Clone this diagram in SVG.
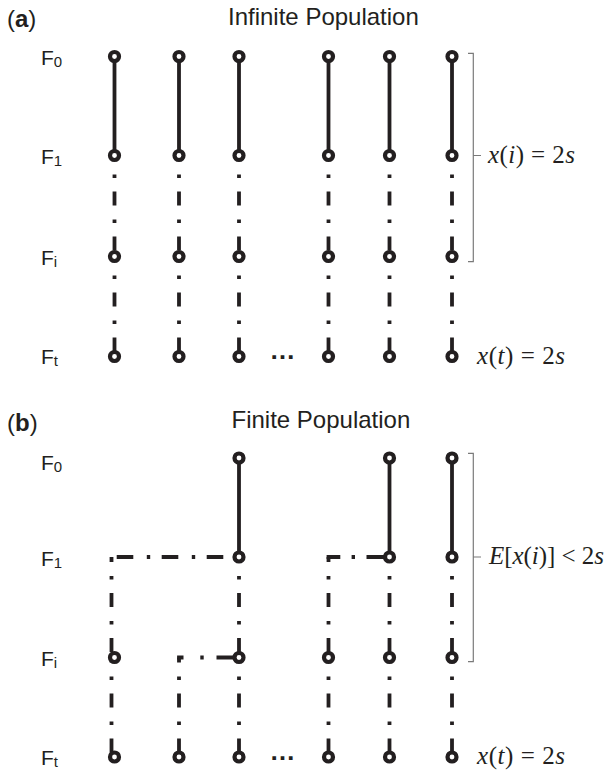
<svg xmlns="http://www.w3.org/2000/svg" width="606" height="771" viewBox="0 0 606 771">
  <style>
    .ttl { font-family: "Liberation Sans", Arial, sans-serif; font-size: 24px; fill: #231f20; }
    .lbl { font-family: "Liberation Sans", Arial, sans-serif; font-size: 21px; fill: #231f20; }
    .sub { font-size: 15px; }
    .math { font-family: "Liberation Serif", "Times New Roman", serif; font-size: 25px; fill: #231f20; }
    .it { font-style: italic; }
    .dots { font-family: "Liberation Sans", Arial, sans-serif; font-size: 26px; font-weight: bold; fill: #231f20; }
    .solid { stroke: #231f20; stroke-width: 3.8; fill: none; }
    .dd { stroke: #231f20; stroke-width: 3.8; fill: none; stroke-dasharray: 14 14 3.4 13.6; stroke-dashoffset: 9; }
    .hd { stroke: #231f20; stroke-width: 3.8; fill: none; }
    .brk { stroke: #7a7a7a; stroke-width: 1.2; fill: none; }
    .n circle { fill: #ffffff; stroke: #231f20; stroke-width: 4.2; }
  </style>

  <!-- panel headings -->
  <text class="ttl" x="7" y="27">(<tspan font-weight="bold">a</tspan>)</text>
  <text class="ttl" x="228" y="25">Infinite Population</text>
  <text class="ttl" x="7" y="431">(<tspan font-weight="bold">b</tspan>)</text>
  <text class="ttl" x="231.5" y="428">Finite Population</text>

  <!-- generation labels -->
  <g id="labels">
    <text class="lbl" x="41" y="65">F<tspan class="sub" dy="2">0</tspan></text>
    <text class="lbl" x="41" y="164">F<tspan class="sub" dy="2">1</tspan></text>
    <text class="lbl" x="41" y="265">F<tspan class="sub" dy="2">i</tspan></text>
    <text class="lbl" x="41" y="364">F<tspan class="sub" dy="2">t</tspan></text>
    <text class="lbl" x="41" y="470">F<tspan class="sub" dy="2">0</tspan></text>
    <text class="lbl" x="41" y="565.5">F<tspan class="sub" dy="2">1</tspan></text>
    <text class="lbl" x="41" y="666">F<tspan class="sub" dy="2">i</tspan></text>
    <text class="lbl" x="41" y="765">F<tspan class="sub" dy="2">t</tspan></text>
  </g>

  <!-- lineages -->
  <g id="connectors">
    <!-- (a) every lineage survives -->
    <path class="solid" d="M114.5 56.5V155.5M179 56.5V155.5M239 56.5V155.5M328.5 56.5V155.5M389.5 56.5V155.5M452 56.5V155.5"/>
    <path class="dd" d="M114.5 155.5V256.5M179 155.5V256.5M239 155.5V256.5M328.5 155.5V256.5M389.5 155.5V256.5M452 155.5V256.5"/>
    <path class="dd" d="M114.5 256.5V356.5M179 256.5V356.5M239 256.5V356.5M328.5 256.5V356.5M389.5 256.5V356.5M452 256.5V356.5"/>

    <!-- (b) lineages that split and drift -->
    <path class="solid" d="M239 458V557M389.5 458V557M452 458V557"/>
    <path class="dd" d="M239 557V657.5M389.5 557V657.5M452 557V657.5M111.5 557V657.5M328.5 557V657.5"/>
    <path class="dd" d="M239 657.5V757M389.5 657.5V757M452 657.5V757M111.5 657.5V757M328.5 657.5V757M179 657.5V757"/>
    <line class="hd" x1="111.5" y1="557" x2="239" y2="557" stroke-dasharray="16.6 13.5 3.4 11.5" stroke-dashoffset="39.8"/>
    <line class="hd" x1="326.6" y1="557" x2="389.5" y2="557" stroke-dasharray="13.7 11.3 3.4 11.5 40"/>
    <line class="hd" x1="177.1" y1="657.5" x2="239" y2="657.5" stroke-dasharray="6.4 16.8 3.4 12.8 40"/>
  </g>

  <!-- (a) individuals -->
  <g id="a0-1" class="n"><circle cx="114.5" cy="56.5" r="4.5"/></g>
  <g id="a0-2" class="n"><circle cx="179" cy="56.5" r="4.5"/></g>
  <g id="a0-3" class="n"><circle cx="239" cy="56.5" r="4.5"/></g>
  <g id="a0-4" class="n"><circle cx="328.5" cy="56.5" r="4.5"/></g>
  <g id="a0-5" class="n"><circle cx="389.5" cy="56.5" r="4.5"/></g>
  <g id="a0-6" class="n"><circle cx="452" cy="56.5" r="4.5"/></g>
  <g id="a1-1" class="n"><circle cx="114.5" cy="155.5" r="4.5"/></g>
  <g id="a1-2" class="n"><circle cx="179" cy="155.5" r="4.5"/></g>
  <g id="a1-3" class="n"><circle cx="239" cy="155.5" r="4.5"/></g>
  <g id="a1-4" class="n"><circle cx="328.5" cy="155.5" r="4.5"/></g>
  <g id="a1-5" class="n"><circle cx="389.5" cy="155.5" r="4.5"/></g>
  <g id="a1-6" class="n"><circle cx="452" cy="155.5" r="4.5"/></g>
  <g id="ai-1" class="n"><circle cx="114.5" cy="256.5" r="4.5"/></g>
  <g id="ai-2" class="n"><circle cx="179" cy="256.5" r="4.5"/></g>
  <g id="ai-3" class="n"><circle cx="239" cy="256.5" r="4.5"/></g>
  <g id="ai-4" class="n"><circle cx="328.5" cy="256.5" r="4.5"/></g>
  <g id="ai-5" class="n"><circle cx="389.5" cy="256.5" r="4.5"/></g>
  <g id="ai-6" class="n"><circle cx="452" cy="256.5" r="4.5"/></g>
  <g id="at-1" class="n"><circle cx="114.5" cy="356.5" r="4.5"/></g>
  <g id="at-2" class="n"><circle cx="179" cy="356.5" r="4.5"/></g>
  <g id="at-3" class="n"><circle cx="239" cy="356.5" r="4.5"/></g>
  <g id="at-4" class="n"><circle cx="328.5" cy="356.5" r="4.5"/></g>
  <g id="at-5" class="n"><circle cx="389.5" cy="356.5" r="4.5"/></g>
  <g id="at-6" class="n"><circle cx="452" cy="356.5" r="4.5"/></g>

  <!-- (b) individuals -->
  <g id="b0-3" class="n"><circle cx="239" cy="458" r="4.5"/></g>
  <g id="b0-5" class="n"><circle cx="389.5" cy="458" r="4.5"/></g>
  <g id="b0-6" class="n"><circle cx="452" cy="458" r="4.5"/></g>
  <g id="b1-3" class="n"><circle cx="239" cy="557" r="4.5"/></g>
  <g id="b1-5" class="n"><circle cx="389.5" cy="557" r="4.5"/></g>
  <g id="b1-6" class="n"><circle cx="452" cy="557" r="4.5"/></g>
  <g id="bi-1" class="n"><circle cx="114.5" cy="657.5" r="4.5"/></g>
  <g id="bi-3" class="n"><circle cx="239" cy="657.5" r="4.5"/></g>
  <g id="bi-4" class="n"><circle cx="328.5" cy="657.5" r="4.5"/></g>
  <g id="bi-5" class="n"><circle cx="389.5" cy="657.5" r="4.5"/></g>
  <g id="bi-6" class="n"><circle cx="452" cy="657.5" r="4.5"/></g>
  <g id="bt-1" class="n"><circle cx="114.5" cy="757" r="4.5"/></g>
  <g id="bt-2" class="n"><circle cx="179" cy="757" r="4.5"/></g>
  <g id="bt-3" class="n"><circle cx="239" cy="757" r="4.5"/></g>
  <g id="bt-4" class="n"><circle cx="328.5" cy="757" r="4.5"/></g>
  <g id="bt-5" class="n"><circle cx="389.5" cy="757" r="4.5"/></g>
  <g id="bt-6" class="n"><circle cx="452" cy="757" r="4.5"/></g>

  <!-- omitted individuals -->
  <text class="dots" x="282.5" y="359" text-anchor="middle">…</text>
  <text class="dots" x="282.5" y="759.5" text-anchor="middle">…</text>

  <!-- brackets and annotations -->
  <path class="brk" d="M468 53.3H473.3V261.7H468M473.3 155.5H481"/>
  <path class="brk" d="M468 453.3H473.3V661.7H468M473.3 557H481"/>
  <text class="math" x="488" y="162.5" textLength="87" lengthAdjust="spacing"><tspan class="it">x</tspan>(<tspan class="it">i</tspan>) = 2<tspan class="it">s</tspan></text>
  <text class="math" x="477" y="363.5" textLength="88" lengthAdjust="spacing"><tspan class="it">x</tspan>(<tspan class="it">t</tspan>) = 2<tspan class="it">s</tspan></text>
  <text class="math" x="489" y="564" textLength="115" lengthAdjust="spacing"><tspan class="it">E</tspan>[<tspan class="it">x</tspan>(<tspan class="it">i</tspan>)] &lt; 2<tspan class="it">s</tspan></text>
  <text class="math" x="477" y="764" textLength="88" lengthAdjust="spacing"><tspan class="it">x</tspan>(<tspan class="it">t</tspan>) = 2<tspan class="it">s</tspan></text>
</svg>
